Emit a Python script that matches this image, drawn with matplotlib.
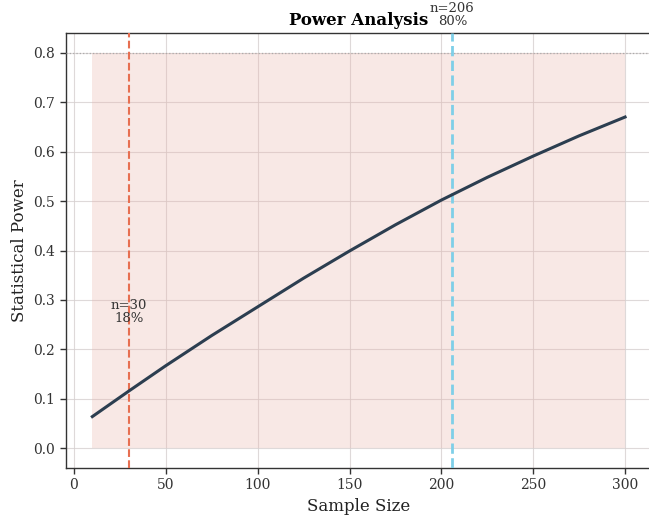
import numpy as np
import matplotlib
matplotlib.use("Agg")
import matplotlib.pyplot as plt

plt.rcParams['font.family'] = ['DejaVu Serif']

# Power curve
sample_sizes = [10, 30, 50, 75, 100, 125, 150, 175, 200, 225, 250, 275, 300]
power = [0.064, 0.116, 0.167, 0.228, 0.286, 0.344, 0.399, 0.452, 0.502, 0.548, 0.591, 0.632, 0.670]

target_power = 0.8
current_n, current_label = 30, "n=30\n18%"
required_n, required_label = 206, "n=206\n80%"

xticks = [0, 50, 100, 150, 200, 250, 300]
yticks = [0.0, 0.1, 0.2, 0.3, 0.4, 0.5, 0.6, 0.7, 0.8]

fig = plt.figure(figsize=(6.49, 5.23), dpi=100)
ax = fig.add_axes([65.7 / 649, 1 - 468 / 523, (651.7 - 65.7) / 649, (468 - 33) / 523])

ax.fill_between(sample_sizes, 0, target_power, color='#e8b4ac', alpha=0.3, linewidth=0, zorder=1)
ax.plot(sample_sizes, power, color='#2c3e50', linewidth=2.2, zorder=4)
ax.axhline(target_power, color='#aaaaaa', linestyle=':', linewidth=0.9, zorder=3)
ax.axvline(current_n, color='#e76f51', linestyle='--', linewidth=1.5, zorder=3)
ax.axvline(required_n, color='#7ecfe8', linestyle='--', linewidth=2.0, zorder=3)

ax.text(current_n, 0.25, current_label, ha='center', va='bottom', fontsize=9.5,
        color='#333333', linespacing=1.0, zorder=5)
ax.text(required_n, 0.85, required_label, ha='center', va='bottom', fontsize=9.5,
        color='#333333', linespacing=1.0, zorder=5, clip_on=False)

ax.set_xlim(-4.5, 314.5)
ax.set_ylim(-0.04, 0.84)
ax.set_xticks(xticks)
ax.set_yticks(yticks)
ax.set_yticklabels([f"{v:.1f}" for v in yticks])
ax.grid(True, color='#d6d0d0', linewidth=0.8, alpha=0.8, zorder=0)
ax.set_axisbelow(True)

for side in ['left', 'bottom', 'top', 'right']:
    ax.spines[side].set_color('#333333')
    ax.spines[side].set_linewidth(1.0)
ax.tick_params(axis='both', labelsize=10, colors='#333333', length=4, width=1.0)

ax.set_xlabel("Sample Size", fontsize=12, color='#222222')
ax.set_ylabel("Statistical Power", fontsize=12, color='#222222')
ax.set_title("Power Analysis", fontsize=12, fontweight='bold', pad=6)

fig.savefig("out.png", dpi=100)
